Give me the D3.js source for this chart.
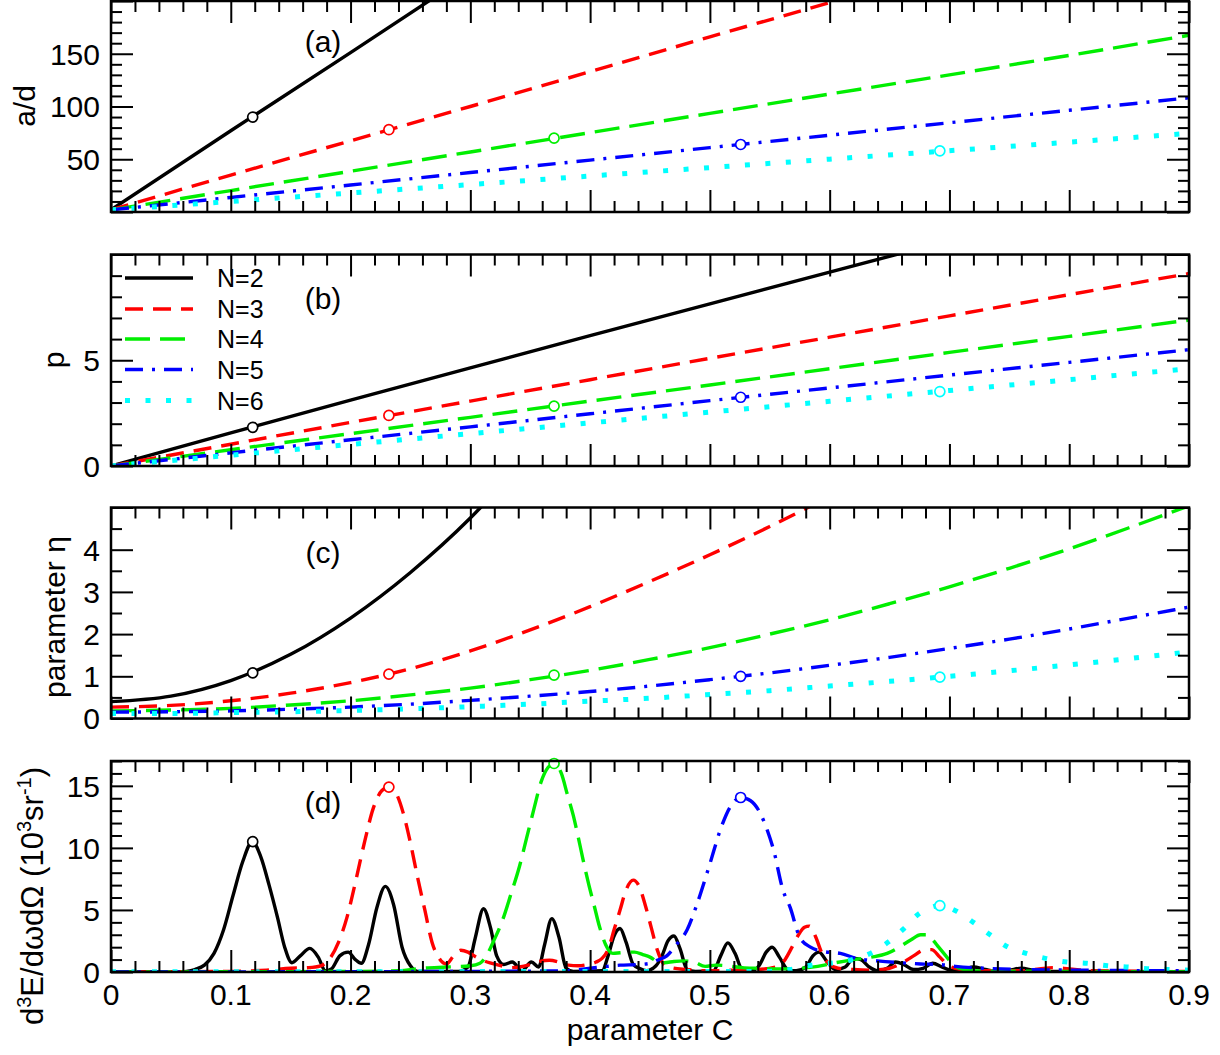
<!DOCTYPE html>
<html>
<head>
<meta charset="utf-8">
<script src="https://cdn.jsdelivr.net/npm/d3@7"></script>
<style>
  body { margin: 0; background: #fff; }
  text { font-family: "Liberation Sans", Arial, sans-serif; fill: #000; }
</style>
</head>
<body>
<svg id="chart" width="1220" height="1055"></svg>
<script>
// ---- data ----
const seriesNames = ["N=2", "N=3", "N=4", "N=5", "N=6"];

// resonance points (open circles)
const resC = [0.1183, 0.232, 0.3699, 0.5257, 0.692];
const resAd = [90, 78, 70, 64, 58];
const resP = [1.83, 2.39, 2.83, 3.25, 3.52];
const resEta = [1.08, 1.05, 1.03, 1.0, 0.98];
const resSpec = [10.5, 14.9, 16.8, 14.06, 5.35];

// (a) a/d and (b) p, sampled at C = 0 .. 0.9
const cCoarse = [0, 0.1, 0.2, 0.3, 0.4, 0.5, 0.6, 0.7, 0.8, 0.9];
const adN2 = [2, 77, 151, 226, 300, 375, 450, 524, 599, 673];
const adN3 = [2, 35, 67.5, 100, 133, 166, 198.5, 231, 264, 297];
const adN4 = [2, 20.3, 38.6, 56.9, 75.2, 93.5, 111.8, 130, 148.4, 167.5];
const adN5 = [2, 13.8, 25.6, 37.4, 49.2, 61, 72.8, 84.6, 96.4, 108.2];
const adN6 = [2, 10, 18, 26, 34.1, 42.1, 50.1, 58.1, 66.2, 74.5];

const pN2 = [0, 1.57, 3.11, 4.64, 6.16, 7.67, 9.17, 10.66, 12.15, 13.63];
const pN3 = [0, 1.03, 2.06, 3.07, 4.08, 5.09, 6.09, 7.1, 8.1, 9.1];
const pN4 = [0, 0.77, 1.53, 2.3, 3.07, 3.83, 4.6, 5.37, 6.13, 6.9];
const pN5 = [0, 0.62, 1.24, 1.85, 2.47, 3.09, 3.69, 4.3, 4.9, 5.5];
const pN6 = [0, 0.51, 1.02, 1.53, 2.04, 2.55, 3.06, 3.57, 4.08, 4.6];

// (c) eta, sampled at C = 0 .. 0.9 step 0.05
const cFine = [0, 0.05, 0.1, 0.15, 0.2, 0.25, 0.3, 0.35, 0.4, 0.45, 0.5, 0.55, 0.6, 0.65, 0.7, 0.75, 0.8, 0.85, 0.9];
const etaN2 = [0.40, 0.53, 0.90, 1.52, 2.38, 3.46, 4.75, 6.30];
const etaN3 = [0.27, 0.31, 0.42, 0.60, 0.85, 1.18, 1.60, 2.10, 2.65, 3.25, 3.88, 4.55, 5.27, 6.05];
const etaN4 = [0.18, 0.20, 0.24, 0.32, 0.42, 0.56, 0.72, 0.92, 1.14, 1.40, 1.68, 2.0, 2.34, 2.72, 3.12, 3.56, 4.02, 4.52, 5.04];
const etaN5 = [0.15, 0.16, 0.18, 0.22, 0.27, 0.34, 0.43, 0.53, 0.64, 0.77, 0.92, 1.08, 1.26, 1.45, 1.66, 1.88, 2.12, 2.38, 2.64];
const etaN6 = [0.12, 0.12, 0.14, 0.16, 0.19, 0.23, 0.28, 0.34, 0.41, 0.48, 0.57, 0.66, 0.77, 0.88, 1.00, 1.13, 1.27, 1.42, 1.58];

// (d) spectra, [C, value]
const specN2 = [[0,0],[0.055,0],[0.063,0.05],[0.07,0.2],[0.078,0.55],[0.086,1.5],[0.094,3.4],[0.102,6.2],[0.11,8.9],[0.118,10.5],[0.125,9.3],[0.132,7.0],[0.139,4.4],[0.145,2.0],[0.151,0.75],[0.158,1.3],[0.166,1.9],[0.173,1.2],[0.179,0.1],[0.184,0.25],[0.191,1.3],[0.198,1.6],[0.204,1.0],[0.209,0.7],[0.215,2.2],[0.222,5.2],[0.229,6.9],[0.236,5.4],[0.243,2.0],[0.25,0.5],[0.256,0.05],[0.29,0.05],[0.298,0.4],[0.304,2.7],[0.311,5.1],[0.317,3.5],[0.322,1.3],[0.328,0.6],[0.335,0.8],[0.343,0.1],[0.351,0.8],[0.357,0.4],[0.362,2.2],[0.368,4.3],[0.374,2.8],[0.38,0.3],[0.386,0.05],[0.41,0.1],[0.415,1.3],[0.42,2.9],[0.425,3.5],[0.43,2.4],[0.436,0.6],[0.441,0.3],[0.447,0.1],[0.455,0.5],[0.46,1.3],[0.465,2.5],[0.47,2.9],[0.475,1.9],[0.481,0.2],[0.488,0.05],[0.503,0.1],[0.509,1.3],[0.515,2.35],[0.521,1.5],[0.527,0.2],[0.535,0.1],[0.541,0.5],[0.547,1.6],[0.552,2.0],[0.558,1.2],[0.565,0.2],[0.572,0.1],[0.58,0.4],[0.586,1.3],[0.591,1.6],[0.598,0.8],[0.605,0.2],[0.613,0.4],[0.62,1.1],[0.626,1.0],[0.633,0.4],[0.64,0.1],[0.648,0.3],[0.655,0.8],[0.662,0.6],[0.67,0.2],[0.678,0.3],[0.686,0.7],[0.694,0.4],[0.703,0.1],[0.712,0.2],[0.72,0.4],[0.73,0.2],[0.74,0.05],[0.75,0.15],[0.76,0.3],[0.77,0.15],[0.78,0.05],[0.9,0.02]];
const specN3 = [[0,0],[0.1,0.05],[0.13,0.15],[0.15,0.3],[0.165,0.35],[0.175,0.5],[0.182,1.0],[0.19,2.4],[0.197,4.4],[0.204,7.2],[0.212,10.6],[0.219,13.2],[0.226,14.6],[0.232,14.9],[0.238,14.4],[0.244,12.8],[0.25,10.4],[0.256,7.6],[0.262,5.0],[0.268,2.4],[0.274,1.1],[0.28,0.65],[0.286,1.3],[0.292,1.75],[0.298,1.6],[0.304,1.25],[0.31,0.95],[0.318,0.7],[0.326,0.5],[0.334,0.35],[0.341,0.4],[0.35,0.6],[0.358,0.85],[0.366,0.95],[0.374,0.8],[0.382,0.55],[0.39,0.5],[0.398,0.6],[0.405,0.8],[0.41,1.1],[0.415,1.8],[0.42,3.4],[0.425,5.0],[0.43,6.6],[0.436,7.4],[0.441,6.9],[0.446,5.4],[0.451,3.6],[0.456,1.8],[0.461,0.7],[0.468,0.35],[0.48,0.2],[0.5,0.1],[0.52,0.15],[0.54,0.2],[0.555,0.4],[0.562,0.9],[0.568,1.9],[0.574,3.0],[0.579,3.6],[0.583,3.7],[0.588,2.9],[0.594,1.4],[0.6,0.6],[0.607,0.3],[0.62,0.2],[0.635,0.15],[0.65,0.3],[0.66,0.7],[0.67,1.3],[0.678,1.75],[0.685,1.8],[0.692,1.2],[0.698,0.6],[0.705,0.3],[0.72,0.1],[0.76,0.1],[0.775,0.25],[0.787,0.35],[0.8,0.25],[0.82,0.1],[0.9,0.05]];
const specN4 = [[0,0],[0.1,0.02],[0.2,0.05],[0.24,0.1],[0.26,0.3],[0.28,0.4],[0.3,0.5],[0.308,0.7],[0.314,1.4],[0.319,2.4],[0.327,4.2],[0.334,6.3],[0.341,8.5],[0.347,10.8],[0.353,13.1],[0.359,15.3],[0.365,16.5],[0.37,16.8],[0.376,16.0],[0.381,14.3],[0.386,12.6],[0.39,10.9],[0.394,9.1],[0.399,7.0],[0.403,5.5],[0.408,3.6],[0.413,2.2],[0.419,1.5],[0.425,1.55],[0.431,1.6],[0.437,1.6],[0.444,1.4],[0.45,1.2],[0.456,0.85],[0.462,0.75],[0.47,0.85],[0.478,0.9],[0.487,0.8],[0.496,0.45],[0.505,0.55],[0.515,0.5],[0.527,0.35],[0.54,0.3],[0.558,0.25],[0.575,0.3],[0.59,0.45],[0.605,0.75],[0.62,1.0],[0.635,1.2],[0.648,1.5],[0.658,2.0],[0.668,2.6],[0.676,3.0],[0.681,3.0],[0.686,2.6],[0.691,2.0],[0.697,1.3],[0.703,0.6],[0.71,0.25],[0.72,0.1],[0.9,0.02]];
const specN5 = [[0,0],[0.3,0.05],[0.38,0.1],[0.4,0.3],[0.414,0.45],[0.425,0.55],[0.44,0.6],[0.45,0.7],[0.456,0.95],[0.464,1.3],[0.472,2.2],[0.481,3.4],[0.489,5.4],[0.499,8.4],[0.51,11.8],[0.517,13.3],[0.526,14.06],[0.534,13.8],[0.542,12.8],[0.548,11.4],[0.553,9.9],[0.561,6.6],[0.567,5.2],[0.575,2.8],[0.584,2.0],[0.595,1.65],[0.609,1.5],[0.623,1.08],[0.64,0.9],[0.659,0.75],[0.676,0.65],[0.692,0.6],[0.705,0.45],[0.73,0.3],[0.76,0.2],[0.8,0.15],[0.9,0.1]];
const specN6 = [[0,0.02],[0.55,0.05],[0.567,0.2],[0.584,0.55],[0.6,0.7],[0.617,0.95],[0.634,1.5],[0.648,2.35],[0.662,3.5],[0.674,4.65],[0.683,5.15],[0.692,5.35],[0.706,4.9],[0.72,4.0],[0.734,3.0],[0.749,2.0],[0.764,1.5],[0.781,1.08],[0.798,0.8],[0.815,0.7],[0.832,0.5],[0.849,0.4],[0.865,0.27],[0.882,0.2],[0.9,0.15]];

const xTicks = [0, 0.1, 0.2, 0.3, 0.4, 0.5, 0.6, 0.7, 0.8, 0.9];

// ---- styles ----
const colors = ["#000000", "#ff0000", "#00ee00", "#0000ff", "#00ffff"];
const dashes = [null, "18,10", "25,10", "18,9,3,9", "5,15.5"];
const widths = [3.4, 3.4, 3.4, 3.4, 5];

const svg = d3.select("#chart");
const X0 = 111, X1 = 1189;
const x = d3.scaleLinear().domain([0, 0.9]).range([X0, X1]);

const zip = (cs, vs) => vs.map((v, i) => [cs[i], v]);

const panels = [
  { id: "a", top: 1, bottom: 212, dom: [0, 200], major: 50, minor: 10, labels: [50, 100, 150],
    tag: "(a)", tagY: 52,
    curves: [adN2, adN3, adN4, adN5, adN6].map(v => zip(cCoarse, v)), res: resAd, curve: d3.curveLinear },
  { id: "b", top: 254.5, bottom: 466, dom: [0, 10], major: 5, minor: 1, labels: [0, 5],
    tag: "(b)", tagY: 309,
    curves: [pN2, pN3, pN4, pN5, pN6].map(v => zip(cCoarse, v)), res: resP, curve: d3.curveLinear },
  { id: "c", top: 507.5, bottom: 718.5, dom: [0, 5], major: 1, minor: 0.5, labels: [0, 1, 2, 3, 4],
    tag: "(c)", tagY: 563,
    curves: [etaN2, etaN3, etaN4, etaN5, etaN6].map(v => zip(cFine, v)), res: resEta, curve: d3.curveMonotoneX },
  { id: "d", top: 761, bottom: 972, dom: [0, 17], major: 5, minor: 1, labels: [0, 5, 10, 15],
    tag: "(d)", tagY: 813,
    curves: [specN2, specN3, specN4, specN5, specN6], res: resSpec, curve: d3.curveMonotoneX },
];

const defs = svg.append("defs");

panels.forEach(p => {
  const y = d3.scaleLinear().domain(p.dom).range([p.bottom, p.top]);
  const g = svg.append("g");

  defs.append("clipPath").attr("id", "clip-" + p.id)
    .append("rect").attr("x", X0).attr("y", p.top).attr("width", X1 - X0).attr("height", p.bottom - p.top);

  // curves
  const line = d3.line().x(d => x(d[0])).y(d => y(d[1])).curve(p.curve);
  const lines = g.append("g").attr("clip-path", `url(#clip-${p.id})`);
  p.curves.forEach((data, i) => {
    lines.append("path").datum(data)
      .attr("d", line)
      .attr("fill", "none")
      .attr("stroke", colors[i])
      .attr("stroke-width", widths[i])
      .attr("stroke-dasharray", dashes[i])
      .attr("stroke-linejoin", "round");
  });

  // resonance markers
  g.selectAll("circle.res").data(p.res).join("circle")
    .attr("class", "res")
    .attr("cx", (d, i) => x(resC[i]))
    .attr("cy", d => y(d))
    .attr("r", 5)
    .attr("fill", "#fff")
    .attr("stroke", (d, i) => colors[i])
    .attr("stroke-width", 1.7);

  // axes: inward ticks on all four sides
  const eps = 1e-9;
  const yMinor = d3.range(p.dom[0], p.dom[1] + eps, p.minor).filter(v => Math.abs(v / p.major - Math.round(v / p.major)) > 1e-6);
  const yMajor = d3.range(p.dom[0], p.dom[1] + eps, p.major);
  const xMinor = d3.range(0, 0.9 + eps, 0.02).filter(v => Math.abs(v * 10 - Math.round(v * 10)) > 1e-6);

  const addAxis = (axis, tx, ty) => {
    const a = g.append("g").attr("transform", `translate(${tx},${ty})`).call(axis);
    a.select(".domain").remove();
    a.selectAll("line").attr("stroke", "#000").attr("stroke-width", 2);
    a.selectAll("text").remove();
  };
  addAxis(d3.axisLeft(y).tickValues(yMinor).tickSize(-11), X0, 0);
  addAxis(d3.axisLeft(y).tickValues(yMajor).tickSize(-22), X0, 0);
  addAxis(d3.axisRight(y).tickValues(yMinor).tickSize(-11), X1, 0);
  addAxis(d3.axisRight(y).tickValues(yMajor).tickSize(-22), X1, 0);
  addAxis(d3.axisBottom(x).tickValues(xMinor).tickSize(-11), 0, p.bottom);
  addAxis(d3.axisBottom(x).tickValues(xTicks).tickSize(-22), 0, p.bottom);
  addAxis(d3.axisTop(x).tickValues(xMinor).tickSize(-11), 0, p.top);
  addAxis(d3.axisTop(x).tickValues(xTicks).tickSize(-22), 0, p.top);

  // frame
  g.append("rect")
    .attr("x", X0).attr("y", p.top).attr("width", X1 - X0).attr("height", p.bottom - p.top)
    .attr("fill", "none").attr("stroke", "#000").attr("stroke-width", 2.5);

  // tick labels
  g.selectAll("text.ylab").data(p.labels).join("text")
    .attr("class", "ylab")
    .attr("x", 100).attr("y", d => y(d)).attr("dy", "0.36em")
    .attr("text-anchor", "end").attr("font-size", 30)
    .text(d => d);

  // panel tag
  g.append("text").attr("x", 323).attr("y", p.tagY)
    .attr("text-anchor", "middle").attr("font-size", 30).text(p.tag);
});

// bottom x tick labels
const fmt = d3.format(".1~f");
svg.selectAll("text.xlab").data(xTicks).join("text")
  .attr("class", "xlab")
  .attr("x", d => x(d)).attr("y", 1005)
  .attr("text-anchor", "middle").attr("font-size", 30)
  .text(d => fmt(d));

svg.append("text").attr("x", 650).attr("y", 1040)
  .attr("text-anchor", "middle").attr("font-size", 30).text("parameter C");

// y axis titles
const yTitle = (tx, ty, fs) => svg.append("text")
  .attr("transform", `translate(${tx},${ty}) rotate(-90)`)
  .attr("text-anchor", "middle").attr("font-size", fs || 30);
yTitle(35, 106).text("a/d");
yTitle(64, 360).text("p");
yTitle(65, 617).text("parameter η");
const t4 = yTitle(43, 896, 31);
t4.append("tspan").text("d");
t4.append("tspan").attr("font-size", 20).attr("dy", -12).text("3");
t4.append("tspan").attr("dy", 12).text("E/dωdΩ (10");
t4.append("tspan").attr("font-size", 20).attr("dy", -12).text("3");
t4.append("tspan").attr("dy", 12).text("sr");
t4.append("tspan").attr("font-size", 20).attr("dy", -12).text("-1");
t4.append("tspan").attr("dy", 12).text(")");

// legend in panel (b)
const legY = [278, 309, 339, 369.5, 400.5];
const leg = svg.append("g");
seriesNames.forEach((name, i) => {
  leg.append("line")
    .attr("x1", 125).attr("x2", 193).attr("y1", legY[i]).attr("y2", legY[i])
    .attr("stroke", colors[i]).attr("stroke-width", widths[i])
    .attr("stroke-dasharray", dashes[i]);
  leg.append("text").attr("x", 217).attr("y", legY[i]).attr("dy", "0.36em")
    .attr("font-size", 25).text(name);
});
</script>
</body>
</html>
